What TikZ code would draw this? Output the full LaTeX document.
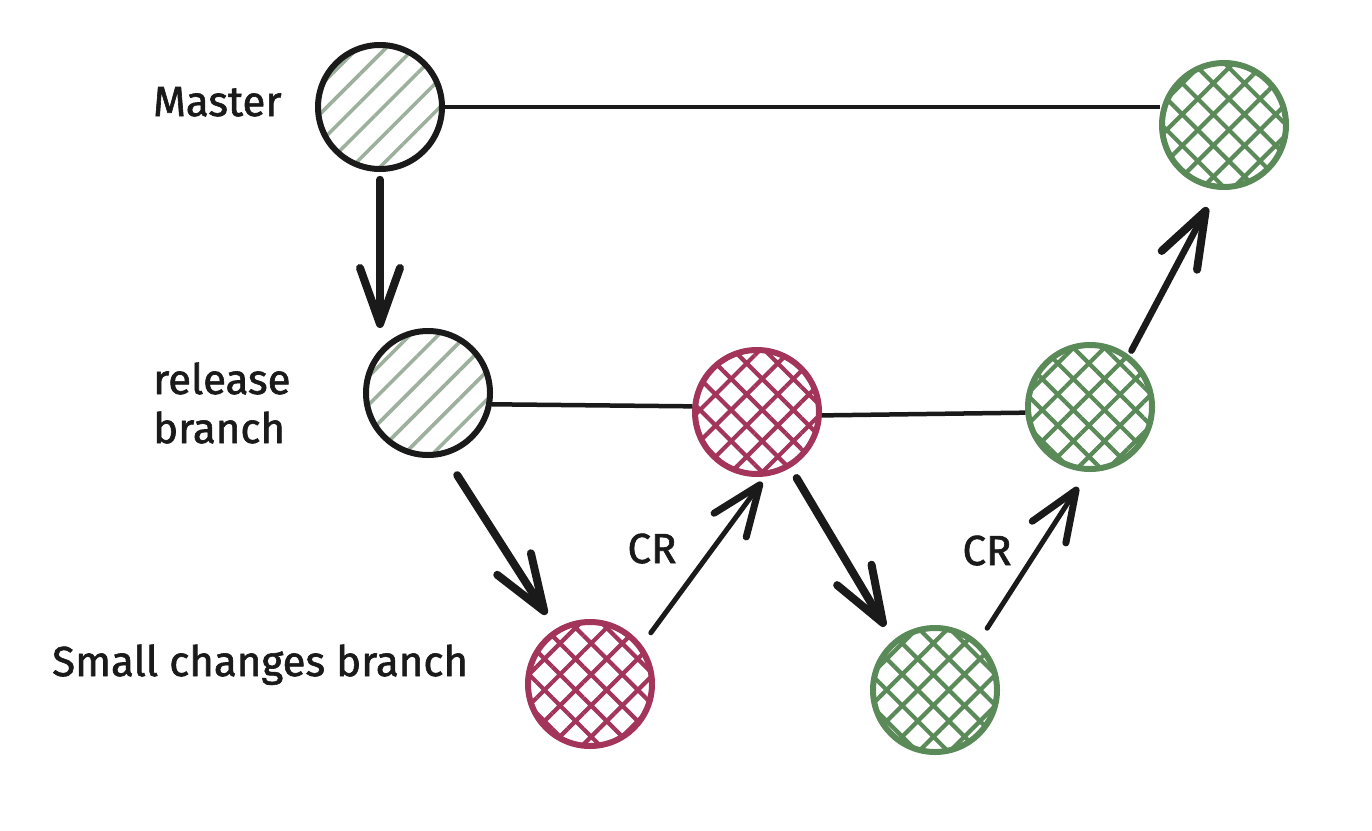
\documentclass[tikz,border=0pt]{standalone}
\usepackage{fontspec}
\setmainfont{Fira Sans}[FakeBold=1.5]
\usetikzlibrary{arrows.meta,patterns.meta}
\definecolor{ink}{HTML}{1A1A1A}
\definecolor{hatchgray}{HTML}{9DB09D}
\definecolor{berry}{HTML}{A3345A}
\definecolor{leaf}{HTML}{5A8A58}
\tikzset{
  commit/.style={circle, minimum size=124pt, inner sep=0pt, line width=6pt},
  oldcommit/.style={commit, draw=ink, pattern={Lines[angle=45,distance=20pt,line width=3.6pt]}, pattern color=hatchgray},
  redcommit/.style={commit, draw=berry, pattern={Hatch[angle=45,distance=22pt,line width=4.2pt]}, pattern color=berry},
  greencommit/.style={commit, draw=leaf, pattern={Hatch[angle=45,distance=22pt,line width=4.2pt]}, pattern color=leaf},
  link/.style={draw=ink, line width=4.5pt},
  bigarrow/.style={draw=ink, line width=8pt, line cap=round, -{Straight Barb[length=56pt,width=40pt,line width=8pt,round]}},
  crarrow/.style={draw=ink, line width=5pt, line cap=round, -{Straight Barb[length=50pt,width=40pt,line width=7pt,round]}},
  label/.style={font=\fontsize{42}{50}\selectfont, text=ink, align=left, inner sep=0pt}
}
\begin{document}
\begin{tikzpicture}[x=1pt,y=-1pt]
\useasboundingbox (0,0) rectangle (1372,830);
\node[oldcommit] (M) at (380,107) {};
\node[greencommit] (M2) at (1224,125) {};
\node[oldcommit] (R1) at (428,393) {};
\node[redcommit] (R2) at (757,412) {};
\node[greencommit] (R3) at (1090,407) {};
\node[redcommit] (S1) at (590,684) {};
\node[greencommit] (S2) at (935,690) {};

\node[label, anchor=base west] (lm) at (153,116) {Master};
\node[label, anchor=base west] (lr) at (153,394) {release};
\node[label, anchor=base west] (lb) at (153,443) {branch};
\node[label, anchor=base west] (ls) at (52,676) {Small changes branch};
\node[label, anchor=base] (cr1) at (652,563) {CR};
\node[label, anchor=base] (cr2) at (987,565) {CR};

\draw[link] (M.east) -- (M.east -| M2.west);
\draw[link] (R1.-10) -- (R2.175);
\draw[link] (R2.-3) -- (R3.185);
\draw[bigarrow, shorten <=9pt] (M.south) -- (M.south |- R1.north);
\draw[bigarrow, shorten <=23pt, shorten >=17pt] (R1.-75) -- (S1.122);
\draw[crarrow, shorten <=15pt, shorten >=7pt] (S1.37) -- (R2.-82);
\draw[bigarrow, shorten <=12pt, shorten >=16pt] (R2.-59) -- (S2.130);
\draw[crarrow, shorten <=16pt, shorten >=18pt] (S2.48) -- (R3.-92);
\draw[bigarrow, line width=6.5pt, shorten <=5pt, shorten >=21pt] (R3.53) -- (M2.-96);
\end{tikzpicture}
\end{document}
